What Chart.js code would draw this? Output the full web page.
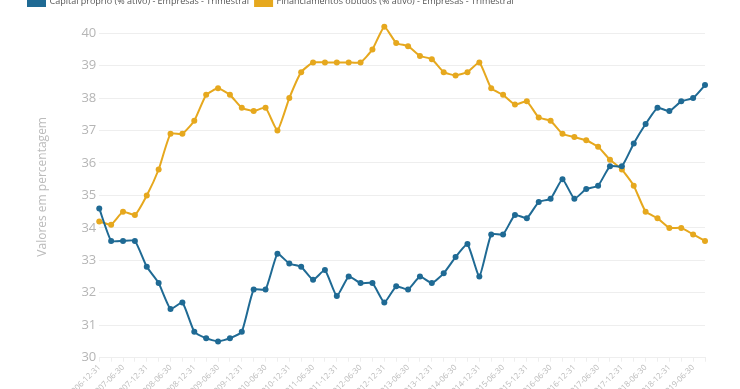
<!DOCTYPE html>
<html>
<head>
<meta charset="utf-8">
<script src="https://cdn.jsdelivr.net/npm/chart.js@4"></script>
<style>
  html, body { margin: 0; padding: 0; background: #fff; overflow: hidden; }
  #wrap { position: absolute; left: 0; top: -10px; width: 740px; height: 410px; }
</style>
</head>
<body>
<div id="wrap"><canvas id="chart"></canvas></div>
<script>
var datas = [
  '2006-12-31','2007-03-31','2007-06-30','2007-09-30','2007-12-31','2008-03-31','2008-06-30','2008-09-30',
  '2008-12-31','2009-03-31','2009-06-30','2009-09-30','2009-12-31','2010-03-31','2010-06-30','2010-09-30',
  '2010-12-31','2011-03-31','2011-06-30','2011-09-30','2011-12-31','2012-03-31','2012-06-30','2012-09-30',
  '2012-12-31','2013-03-31','2013-06-30','2013-09-30','2013-12-31','2014-03-31','2014-06-30','2014-09-30',
  '2014-12-31','2015-03-31','2015-06-30','2015-09-30','2015-12-31','2016-03-31','2016-06-30','2016-09-30',
  '2016-12-31','2017-03-31','2017-06-30','2017-09-30','2017-12-31','2018-03-31','2018-06-30','2018-09-30',
  '2018-12-31','2019-03-31','2019-06-30','2019-09-30'
];

// Capital próprio (% ativo)
var capitalProprio = [
  34.6, 33.6, 33.6, 33.6, 32.8, 32.3, 31.5, 31.7, 30.8, 30.6,
  30.5, 30.6, 30.8, 32.1, 32.1, 33.2, 32.9, 32.8, 32.4, 32.7,
  31.9, 32.5, 32.3, 32.3, 31.7, 32.2, 32.1, 32.5, 32.3, 32.6,
  33.1, 33.5, 32.5, 33.8, 33.8, 34.4, 34.3, 34.8, 34.9, 35.5,
  34.9, 35.2, 35.3, 35.9, 35.9, 36.6, 37.2, 37.7, 37.6, 37.9,
  38.0, 38.4
];

// Financiamentos obtidos (% ativo)
var financiamentos = [
  34.2, 34.1, 34.5, 34.4, 35.0, 35.8, 36.9, 36.9, 37.3, 38.1,
  38.3, 38.1, 37.7, 37.6, 37.7, 37.0, 38.0, 38.8, 39.1, 39.1,
  39.1, 39.1, 39.1, 39.5, 40.2, 39.7, 39.6, 39.3, 39.2, 38.8,
  38.7, 38.8, 39.1, 38.3, 38.1, 37.8, 37.9, 37.4, 37.3, 36.9,
  36.8, 36.7, 36.5, 36.1, 35.8, 35.3, 34.5, 34.3, 34.0, 34.0,
  33.8, 33.6
];

var seriesNames = [
  'Capital próprio (% ativo) - Empresas - Trimestral',
  'Financiamentos obtidos (% ativo) - Empresas - Trimestral'
];

var azul = '#1f6a94';
var amarelo = '#e6a81e';

var ctx = document.getElementById('chart').getContext('2d');
var myChart = new Chart(ctx, {
  type: 'line',
  data: {
    labels: datas,
    datasets: [
      {
        label: seriesNames[0],
        data: capitalProprio,
        borderColor: azul,
        backgroundColor: azul,
        borderWidth: 2,
        pointRadius: 3,
        pointBorderWidth: 0,
        tension: 0.15
      },
      {
        label: seriesNames[1],
        data: financiamentos,
        borderColor: amarelo,
        backgroundColor: amarelo,
        borderWidth: 2,
        pointRadius: 3,
        pointBorderWidth: 0,
        tension: 0.15
      }
    ]
  },
  options: {
    responsive: true,
    maintainAspectRatio: false,
    animation: false,
    layout: { padding: { left: 22, right: 35, top: 0, bottom: 0 } },
    plugins: {
      tooltip: { enabled: false },
      legend: {
        position: 'top',
        align: 'start',
        labels: {
          boxWidth: 17,
          boxHeight: 10,
          padding: 6,
          color: '#555',
          font: { family: 'Open Sans', size: 9 }
        }
      }
    },
    scales: {
      x: {
        grid: { drawOnChartArea: false, color: '#eee', tickLength: 4 },
        border: { color: '#eee' },
        ticks: {
          autoSkip: false,
          maxRotation: 45,
          minRotation: 45,
          padding: 1,
          color: '#bbb',
          font: { family: 'Open Sans', size: 8 },
          callback: function (v, i) {
            return i % 2 === 0 ? this.getLabelForValue(v) : '';
          }
        }
      },
      y: {
        min: 30,
        max: 40.53,
        afterBuildTicks: function (scale) {
          scale.ticks = scale.ticks.filter(function (t) { return Number.isInteger(t.value); });
        },
        grid: { color: '#eee', drawTicks: false },
        border: { display: false },
        ticks: {
          stepSize: 1,
          padding: 3,
          color: '#b5b5b5',
          font: { family: 'Open Sans', size: 13 }
        },
        title: {
          display: true,
          text: 'Valores em percentagem',
          color: '#bbb',
          font: { family: 'Open Sans', size: 12 },
          padding: { top: 13, bottom: 29 }
        }
      }
    }
  }
});
</script>
</body>
</html>
